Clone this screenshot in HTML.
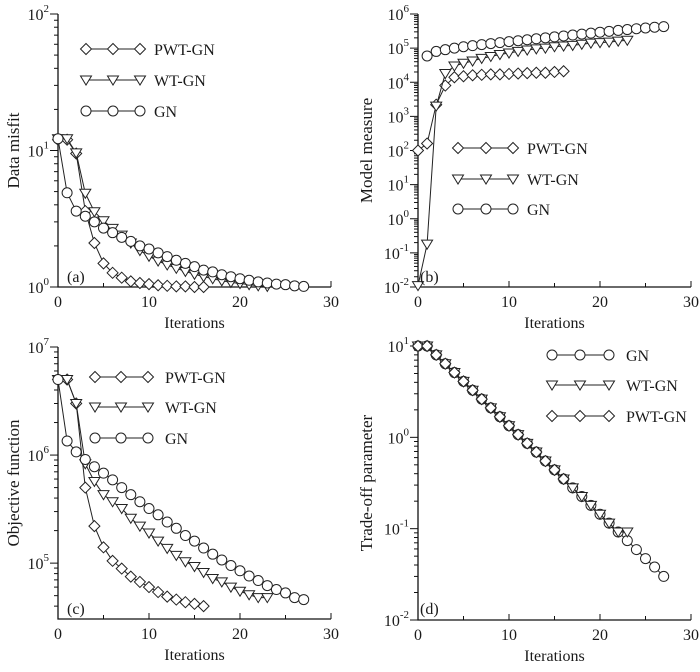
<!DOCTYPE html>
<html><head><meta charset="utf-8"><style>
body{margin:0;background:#fff}
svg{display:block}
text{font-family:"Liberation Serif",serif;fill:#1a1a1a}
</style></head><body>
<svg id="c" width="700" height="672" viewBox="0 0 700 672" xmlns="http://www.w3.org/2000/svg"></svg>
<script>
const iterA_PWT=[12,12,9.5,3.6,2.1,1.49,1.27,1.17,1.1,1.07,1.05,1.03,1.02,1.01,1.01,1.0,1.0];
const iterA_WT=[12.2,12.2,9.6,4.86,3.56,3.06,2.69,2.4,2.1,1.85,1.68,1.55,1.45,1.37,1.3,1.24,1.19,1.15,1.11,1.08,1.06,1.04,1.02,1.01];
const iterA_GN=[12.2,4.9,3.6,3.3,3.0,2.7,2.5,2.31,2.16,2.0,1.9,1.78,1.67,1.57,1.49,1.41,1.33,1.29,1.23,1.19,1.15,1.12,1.09,1.07,1.05,1.04,1.02,1.01];
const modelB_PWT=[100,160,2200,8000,14000,15000,16000,16500,17000,17000,17500,18000,18500,19000,19000,20000,21000];
const modelB_WT=[0.011,0.18,2000,18000,30000,36000,42000,50000,57000,65000,72000,80000,88000,95000,100000,110000,115000,120000,130000,140000,145000,150000,160000,170000];
const modelB_GN_x=[1,2,3,4,5,6,7,8,9,10,11,12,13,14,15,16,17,18,19,20,21,22,23,24,25,26,27];
const modelB_GN=[59000,80000,90000,100000,110000,118000,127000,136000,145000,155000,165000,176000,188000,200000,213000,227000,242000,258000,275000,293000,310000,330000,350000,370000,390000,410000,427000];
const objC_PWT=[5e6,5e6,3e6,5e5,2.2e5,1.4e5,1.05e5,8.9e4,7.5e4,6.7e4,6e4,5.4e4,4.9e4,4.6e4,4.35e4,4.2e4,4e4];
const objC_WT=[5e6,5e6,3e6,8.3e5,5.7e5,4.3e5,3.7e5,3.2e5,2.6e5,2.2e5,1.9e5,1.6e5,1.37e5,1.18e5,1.03e5,9.3e4,8.2e4,7.2e4,6.7e4,6e4,5.5e4,5.1e4,4.8e4,4.8e4];
const objC_GN=[5e6,1.35e6,1.07e6,9.1e5,7.8e5,6.8e5,5.9e5,5e5,4.3e5,3.7e5,3.2e5,2.8e5,2.4e5,2.1e5,1.8e5,1.6e5,1.38e5,1.21e5,1.07e5,9.5e4,8.5e4,7.6e4,6.9e4,6.2e4,5.7e4,5.3e4,4.8e4,4.6e4];
const tradeD_GN=[10,10,8,6.4,5.12,4.1,3.28,2.62,2.1,1.68,1.34,1.07,0.86,0.69,0.55,0.44,0.35,0.28,0.225,0.18,0.144,0.115,0.092,0.074,0.059,0.047,0.038,0.030];
const tradeD_WT=[10,10,8,6.4,5.12,4.1,3.28,2.62,2.1,1.68,1.34,1.07,0.86,0.69,0.55,0.44,0.35,0.28,0.225,0.18,0.144,0.115,0.092,0.092];
const tradeD_PWT=[10,10,8,6.4,5.12,4.1,3.28,2.62,2.1,1.68,1.34,1.07,0.86,0.69,0.55,0.44,0.35];
const xTicks=[0,10,20,30];

const NS="http://www.w3.org/2000/svg";
const svg=document.getElementById('c');
function mk(tag,attrs,parent){const e=document.createElementNS(NS,tag);for(const k in attrs)e.setAttribute(k,attrs[k]);(parent||svg).appendChild(e);return e;}
function marker(g,type,x,y){let e;
 if(type==='circle')e=mk('circle',{cx:x,cy:y,r:5,fill:'#fff',stroke:'#222','stroke-width':1},g);
 else if(type==='tri')e=mk('polygon',{points:`${x-5.5},${y-4} ${x+5.5},${y-4} ${x},${y+5}`,fill:'#fff',stroke:'#222','stroke-width':1},g);
 else e=mk('polygon',{points:`${x},${y-5.5} ${x+5.5},${y} ${x},${y+5.5} ${x-5.5},${y}`,fill:'#fff',stroke:'#222','stroke-width':1},g);
 
 
}
function panel(cfg){
 const g=mk('g',{});
 
 
 const X=v=>cfg.x0+(cfg.x1-cfg.x0)*v/30;
 const Y=v=>cfg.yTop+(cfg.lTop-Math.log10(v))*(cfg.yBot-cfg.yTop)/(cfg.lTop-cfg.lBot);
 const ax=mk('path',{d:`M${cfg.x0},${cfg.yTop}V${cfg.yBot}H${cfg.x1}`,fill:'none',stroke:'#111','stroke-width':1.3},g);
 
 for(let t=0;t<=30;t+=5){const xx=X(t);mk('line',{x1:xx,x2:xx,y1:cfg.yBot,y2:cfg.yBot-(t%10?4:6),stroke:'#111'},g);}
 xTicks.forEach(t=>{const tx=mk('text',{x:X(t),y:cfg.yBot+20,'text-anchor':'middle','font-size':16},g);tx.textContent=t;
  });
 const xt=mk('text',{x:(cfg.x0+cfg.x1)/2,y:cfg.yBot+41,'text-anchor':'middle','font-size':16},g);xt.textContent='Iterations';
 
 for(let d=Math.floor(cfg.lBot);d<=cfg.lTop;d++){
  for(let m=1;m<10;m++){const l=d+Math.log10(m);if(l<cfg.lBot-1e-6||l>cfg.lTop+1e-6)continue;
   const yy=Y(Math.pow(10,l));mk('line',{x1:cfg.x0,x2:cfg.x0-(m===1?8:4),y1:yy,y2:yy,stroke:'#111'},g);
   if(m===1){const tx=mk('text',{x:cfg.x0-9,y:yy+6,'text-anchor':'end','font-size':16},g);
    tx.innerHTML=`10<tspan dy="-8" font-size="11">${d}</tspan>`;
    }}
 }
 const cy=(cfg.yTop+cfg.yBot)/2;
 const yt=mk('text',{x:cfg.ylx,y:cy,'text-anchor':'middle','font-size':17,transform:`rotate(-90 ${cfg.ylx} ${cy})`},g);yt.textContent=cfg.ylabel;
 
 cfg.series.forEach(s=>{
  const xs=s.x||s.v.map((_,i)=>i);
  const sg=mk('g',{},g);
  
  
  mk('polyline',{points:s.v.map((v,i)=>X(xs[i])+','+Y(v)).join(' '),fill:'none',stroke:'#222','stroke-width':1},sg);
  s.v.forEach((v,i)=>marker(sg,s.m,X(xs[i]),Y(v)));
 });
 cfg.legend.forEach((s,i)=>{
  const lg=mk('g',{},g);
  
  
  const y=cfg.legY[i];
  mk('line',{x1:cfg.legX[0],x2:cfg.legX[2],y1:y,y2:y,stroke:'#222'},lg);
  cfg.legX.forEach(x=>marker(lg,s.m,x,y));
  const t=mk('text',{x:cfg.legT,y:y+6,'font-size':16},lg);t.textContent=s.label;
 });
 const pl=mk('text',{x:cfg.plx,y:cfg.ply,'font-size':16},g);pl.textContent=cfg.tag;
 
}
const P={label:'PWT-GN',m:'dia'},W={label:'WT-GN',m:'tri'},G={label:'GN',m:'circle'};
panel({name:'panel-a-data-misfit',x0:58,x1:331,yTop:14,yBot:287,lTop:2,lBot:0,ylabel:'Data misfit',ylx:19,tag:'(a)',plx:67,ply:282,
 series:[{...P,v:iterA_PWT},{...W,v:iterA_WT},{...G,v:iterA_GN}],legend:[P,W,G],legX:[86,113,140],legY:[49,80,111],legT:154});
panel({name:'panel-b-model-measure',x0:418,x1:691,yTop:14,yBot:287,lTop:6,lBot:-2,ylabel:'Model measure',ylx:372,tag:'(b)',plx:420,ply:282,
 series:[{...P,v:modelB_PWT},{...W,v:modelB_WT},{...G,v:modelB_GN,x:modelB_GN_x}],legend:[P,W,G],legX:[458,486,513],legY:[148,179,209],legT:527});
panel({name:'panel-c-objective-function',x0:58,x1:331,yTop:347,yBot:619,lTop:7,lBot:4.483,ylabel:'Objective function',ylx:19,tag:'(c)',plx:67,ply:614,
 series:[{...P,v:objC_PWT},{...W,v:objC_WT},{...G,v:objC_GN}],legend:[P,W,G],legX:[95,121,148],legY:[377,407,438],legT:165});
panel({name:'panel-d-trade-off-parameter',x0:418,x1:691,yTop:346,yBot:620,lTop:1,lBot:-2,ylabel:'Trade-off parameter',ylx:372,tag:'(d)',plx:420,ply:614,
 series:[{...G,v:tradeD_GN},{...W,v:tradeD_WT},{...P,v:tradeD_PWT}],legend:[G,W,P],legX:[552,580,609],legY:[355,385,416],legT:626});
</script>
</body></html>
